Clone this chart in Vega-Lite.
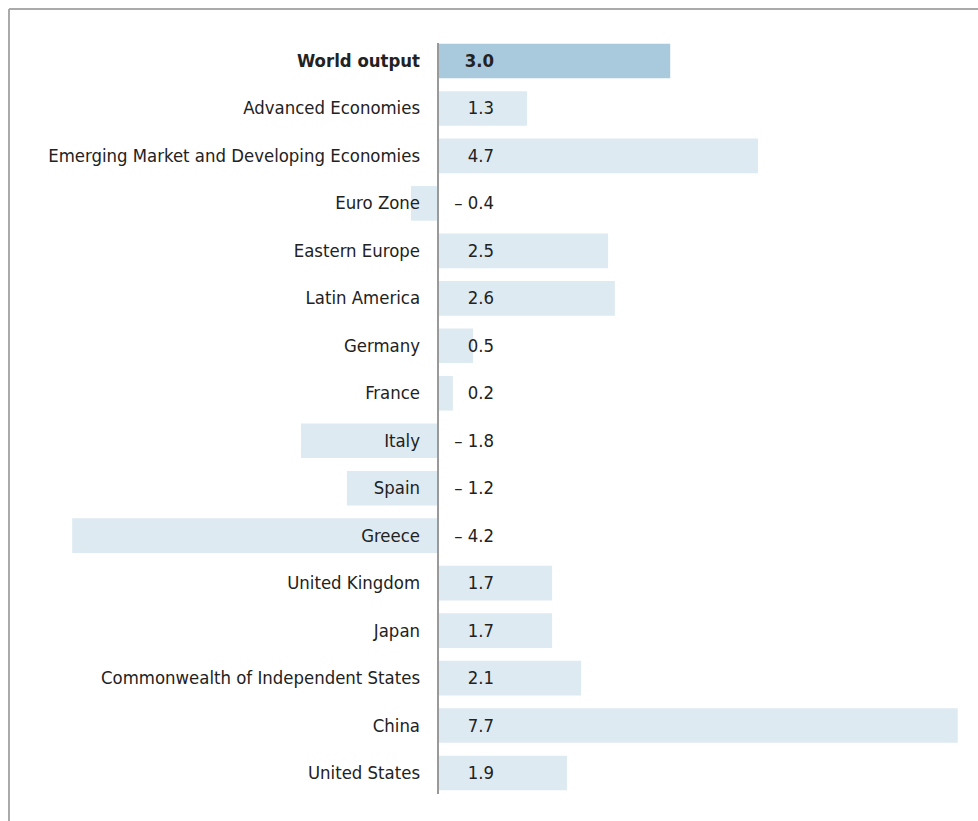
{
  "$schema": "https://vega.github.io/schema/vega-lite/v6.json",
  "width": 969,
  "height": 812,
  "padding": {"left": 9, "top": 9, "right": 0, "bottom": 0},
  "autosize": {"type": "none"},
  "background": "white",
  "config": {
    "view": {"stroke": "#aaaaaa", "strokeWidth": 2, "strokeDash": [969, 1781, 812, 0]},
    "text": {"font": "DejaVu Sans Condensed", "fontSize": 18.4, "color": "#222222"}
  },
  "data": {
    "values": [
      {"name": "World output", "value": 3.0, "bar": 3.44, "label": "3.0", "type": "world"},
      {"name": "Advanced Economies", "value": 1.3, "bar": 1.32, "label": "1.3", "type": "region"},
      {"name": "Emerging Market and Developing Economies", "value": 4.7, "bar": 4.74, "label": "4.7", "type": "region"},
      {"name": "Euro Zone", "value": -0.4, "bar": -0.4, "label": "– 0.4", "type": "region"},
      {"name": "Eastern Europe", "value": 2.5, "bar": 2.52, "label": "2.5", "type": "region"},
      {"name": "Latin America", "value": 2.6, "bar": 2.62, "label": "2.6", "type": "region"},
      {"name": "Germany", "value": 0.5, "bar": 0.52, "label": "0.5", "type": "region"},
      {"name": "France", "value": 0.2, "bar": 0.22, "label": "0.2", "type": "region"},
      {"name": "Italy", "value": -1.8, "bar": -2.03, "label": "– 1.8", "type": "region"},
      {"name": "Spain", "value": -1.2, "bar": -1.35, "label": "– 1.2", "type": "region"},
      {"name": "Greece", "value": -4.2, "bar": -5.42, "label": "– 4.2", "type": "region"},
      {"name": "United Kingdom", "value": 1.7, "bar": 1.69, "label": "1.7", "type": "region"},
      {"name": "Japan", "value": 1.7, "bar": 1.69, "label": "1.7", "type": "region"},
      {"name": "Commonwealth of Independent States", "value": 2.1, "bar": 2.12, "label": "2.1", "type": "region"},
      {"name": "China", "value": 7.7, "bar": 7.7, "label": "7.7", "type": "region"},
      {"name": "United States", "value": 1.9, "bar": 1.91, "label": "1.9", "type": "region"}
    ]
  },
  "encoding": {
    "y": {
      "field": "name", "type": "nominal", "sort": null, "axis": null,
      "scale": {"range": [28.26, 787.74], "paddingInner": 0.27, "paddingOuter": 0.135}
    }
  },
  "layer": [
    {
      "mark": {"type": "bar"},
      "encoding": {
        "x": {"field": "bar", "type": "quantitative", "axis": null, "scale": {"domain": [-6.356, 8.0], "nice": false, "zero": false}},
        "color": {"field": "type", "type": "nominal", "legend": null, "scale": {"domain": ["world", "region"], "range": ["#a9c9dc", "#ddeaf2"]}}
      }
    },
    {
      "mark": {"type": "rule", "color": "#999999", "strokeWidth": 1.5},
      "encoding": {
        "x": {"datum": 0},
        "y": {"datum": "World output", "bandPosition": 0},
        "y2": {"datum": "United States", "bandPosition": 1.1}
      }
    },
    {
      "transform": [{"filter": "datum.type == 'region'"}],
      "mark": {"type": "text", "align": "right", "baseline": "middle", "dx": -18},
      "encoding": {"x": {"datum": 0}, "text": {"field": "name"}}
    },
    {
      "transform": [{"filter": "datum.type == 'world'"}],
      "mark": {"type": "text", "align": "right", "baseline": "middle", "dx": -18, "fontWeight": "bold"},
      "encoding": {"x": {"datum": 0}, "text": {"field": "name"}}
    },
    {
      "transform": [{"filter": "datum.type == 'region'"}],
      "mark": {"type": "text", "align": "right", "baseline": "middle", "dx": 56},
      "encoding": {"x": {"datum": 0}, "text": {"field": "label"}}
    },
    {
      "transform": [{"filter": "datum.type == 'world'"}],
      "mark": {"type": "text", "align": "right", "baseline": "middle", "dx": 56, "fontWeight": "bold"},
      "encoding": {"x": {"datum": 0}, "text": {"field": "label"}}
    }
  ]
}
